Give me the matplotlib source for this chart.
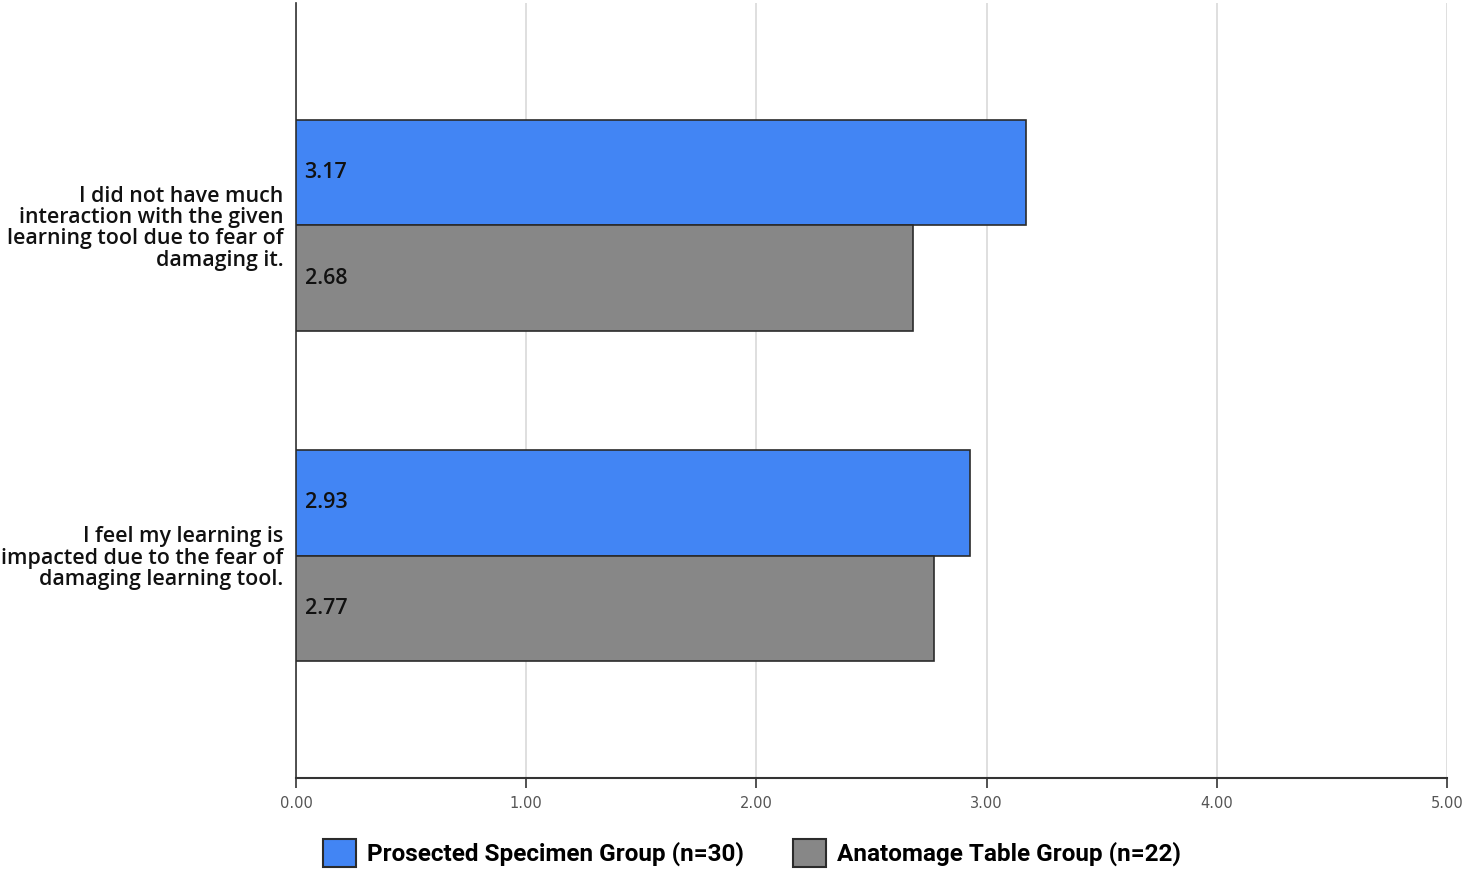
import matplotlib
matplotlib.use("Agg")
import matplotlib.pyplot as plt
from matplotlib.patches import Patch
import numpy as np

categories = ["I did not have much\ninteraction with the given\nlearning tool due to fear of\ndamaging it.",
              "I feel my learning is\nimpacted due to the fear of\ndamaging learning tool."]
series_names = ["Prosected Specimen Group (n=30)", "Anatomage Table Group (n=22)"]
prosected = [3.17, 2.93]
anatomage = [2.68, 2.77]
xticks = [0, 1, 2, 3, 4, 5]
xticklabels = ["0.00", "1.00", "2.00", "3.00", "4.00", "5.00"]

colors = ["#4285F4", "#878787"]

fig = plt.figure(figsize=(14.66, 8.69), dpi=100)
W, H = 1466, 869
ax = fig.add_axes([296 / W, 1 - 778 / H, (1447 - 296) / W, (778 - 3) / H])

y = np.arange(len(categories))
h = 0.32
for vals, off, c in [(prosected, -h / 2, colors[0]), (anatomage, h / 2, colors[1])]:
    bars = ax.barh(y + off, vals, height=h, color=c, edgecolor="#2b2b2b", linewidth=1.2, zorder=3)
    for b, v in zip(bars, vals):
        ax.text(0.037, b.get_y() + b.get_height() / 2, f"{v:.2f}", va="center", ha="left",
                fontsize=15.5, fontweight="semibold", color="#111111", family="Open Sans", zorder=4)

ax.set_xlim(0, 5)
ax.set_ylim(1.674, -0.674)
ax.set_xticks(xticks)
ax.set_xticklabels(xticklabels, fontsize=10.5, color="#555555")
ax.set_yticks(y)
ax.set_yticklabels(categories, fontsize=15.4, fontweight="semibold", family="Open Sans", color="#111111",
                   linespacing=1.02)
ax.tick_params(axis="y", length=0, pad=9)
ax.tick_params(axis="x", length=7, width=1.2, color="#333333", pad=6, direction="out")
ax.grid(axis="x", color="#d9d9d9", linewidth=1.2, zorder=0)
for s in ["top", "right"]:
    ax.spines[s].set_visible(False)
ax.spines["left"].set_color("#333333")
ax.spines["bottom"].set_color("#333333")
ax.spines["left"].set_linewidth(1.2)
ax.spines["bottom"].set_linewidth(1.5)

handles = [Patch(facecolor=colors[i], edgecolor="#2b2b2b", linewidth=1.5) for i in range(2)]
fig.legend(handles, series_names, loc="center", bbox_to_anchor=(752 / W, 1 - 853 / H), ncol=2,
           frameon=False, prop={"family": "Roboto", "size": 17.5, "weight": "bold"},
           handlelength=1.35, handleheight=1.35, handletextpad=0.45, columnspacing=2.0)

fig.savefig("out.png", dpi=100, facecolor="white")
